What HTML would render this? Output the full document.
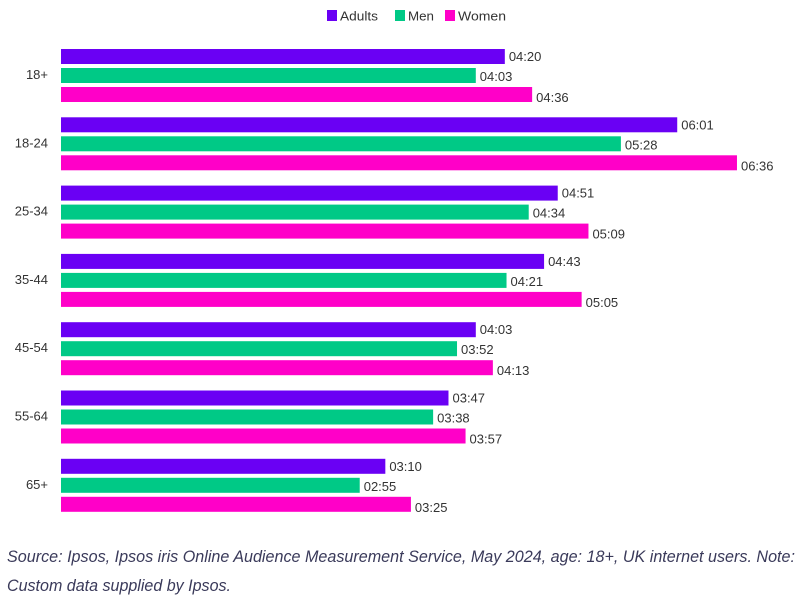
<!DOCTYPE html>
<html><head><meta charset="utf-8"><style>
html,body{margin:0;padding:0;background:#fff;}
svg{display:block;font-family:"Liberation Sans",sans-serif;}
</style></head><body>
<svg width="800" height="600" xmlns="http://www.w3.org/2000/svg">
<rect x="327" y="10" width="10" height="11" fill="#6a00f4"/>
<text x="340" y="20.5" font-size="13" fill="#333" textLength="38" lengthAdjust="spacingAndGlyphs">Adults</text>
<rect x="395" y="10" width="10" height="11" fill="#00c986"/>
<text x="408" y="20.5" font-size="13" fill="#333" textLength="26" lengthAdjust="spacingAndGlyphs">Men</text>
<rect x="445" y="10" width="10" height="11" fill="#ff00c8"/>
<text x="458" y="20.5" font-size="13" fill="#333" textLength="48" lengthAdjust="spacingAndGlyphs">Women</text>
<g id="bars" font-size="13" fill="#333"></g>
<text x="7" y="562" font-size="17" font-style="italic" fill="#3a3a5a" textLength="788" lengthAdjust="spacingAndGlyphs">Source: Ipsos, Ipsos iris Online Audience Measurement Service, May 2024, age: 18+, UK internet users. Note:</text>
<text x="7" y="591" font-size="17" font-style="italic" fill="#3a3a5a" textLength="224" lengthAdjust="spacingAndGlyphs">Custom data supplied by Ipsos.</text>
</svg>
<script>
var d=[["18+","04:20","04:03","04:36"],["18-24","06:01","05:28","06:36"],["25-34","04:51","04:34","05:09"],["35-44","04:43","04:21","05:05"],["45-54","04:03","03:52","04:13"],["55-64","03:47","03:38","03:57"],["65+","03:10","02:55","03:25"]];
var cols=["#6a00f4","#00c986","#ff00c8"],g=document.getElementById("bars"),h="";
d.forEach(function(r,i){var y0=49+i*68.3;
h+='<text x="48" y="'+(y0+30)+'" text-anchor="end">'+r[0]+'</text>';
for(var k=0;k<3;k++){var p=r[k+1].split(":"),m=+p[0]*60+ +p[1],w=m*1.707,y=y0+k*19;
h+='<rect x="61" y="'+y+'" width="'+w+'" height="15" fill="'+cols[k]+'"/>';
h+='<text x="'+(65+w)+'" y="'+(y+(k==0?12:k==1?13:15))+'">'+r[k+1]+'</text>';}
});
g.innerHTML=h;
</script>
</body></html>
